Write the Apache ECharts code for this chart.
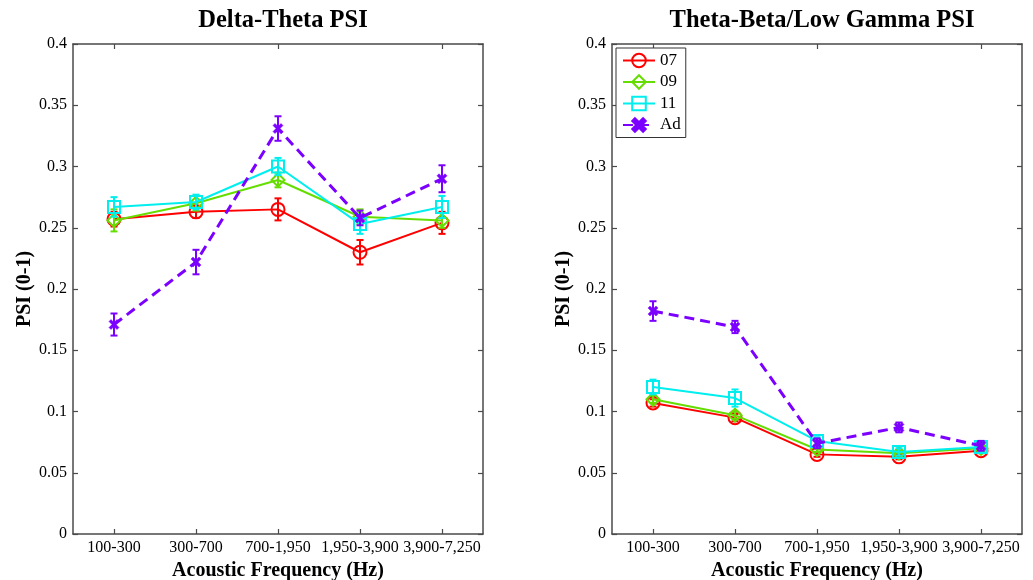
<!DOCTYPE html>
<html>
<head>
<meta charset="utf-8">
<script src="https://cdn.jsdelivr.net/npm/echarts@6/dist/echarts.min.js"></script>
<style>html,body{margin:0;padding:0;background:#fff}#c{width:1033px;height:580px}</style>
</head>
<body>
<div id="c"></div>
<script>
const categories = ['100-300', '300-700', '700-1,950', '1,950-3,900', '3,900-7,250'];
const yTicks = [0, 0.05, 0.1, 0.15, 0.2, 0.25, 0.3, 0.35, 0.4];
const seriesNames = ['07', '09', '11', 'Ad'];

// Delta-Theta PSI (means and error half-widths)
const dt07 = [0.257, 0.263, 0.265, 0.230, 0.254];
const dt09 = [0.256, 0.270, 0.289, 0.259, 0.256];
const dt11 = [0.267, 0.271, 0.300, 0.253, 0.267];
const dtAd = [0.171, 0.222, 0.331, 0.258, 0.290];
const dt07e = [0.006, 0.005, 0.009, 0.010, 0.009];
const dt09e = [0.009, 0.006, 0.006, 0.006, 0.006];
const dt11e = [0.008, 0.006, 0.007, 0.008, 0.009];
const dtAde = [0.009, 0.010, 0.010, 0.006, 0.011];

// Theta-Beta/Low Gamma PSI
const tb07 = [0.107, 0.095, 0.065, 0.063, 0.068];
const tb09 = [0.110, 0.097, 0.069, 0.066, 0.070];
const tb11 = [0.120, 0.111, 0.076, 0.067, 0.071];
const tbAd = [0.182, 0.169, 0.074, 0.087, 0.072];
const tb07e = [0.003, 0.003, 0.002, 0.002, 0.002];
const tb09e = [0.003, 0.003, 0.002, 0.002, 0.002];
const tb11e = [0.006, 0.007, 0.003, 0.003, 0.003];
const tbAde = [0.008, 0.005, 0.004, 0.004, 0.004];

const FONT = '"Liberation Serif", "Times New Roman", serif';
const AX = '#4a4a4a';
const colors = {'07': '#ff0000', '09': '#66dd00', '11': '#00eeee', 'Ad': '#7b00ff'};
const symbols = {
  '07': 'circle',
  '09': 'diamond',
  '11': 'rect',
  'Ad': 'path://M2,0 L5,3 L8,0 L10,2 L7,5 L10,8 L8,10 L5,7 L2,10 L0,8 L3,5 L0,2 Z'
};
const symSizes = {'07': 13, '09': 13, '11': 12, 'Ad': 10};

const panels = [
  {title: 'Delta-Theta PSI', vals: [dt07, dt09, dt11, dtAd], errs: [dt07e, dt09e, dt11e, dtAde], left: 73},
  {title: 'Theta-Beta/Low Gamma PSI', vals: [tb07, tb09, tb11, tbAd], errs: [tb07e, tb09e, tb11e, tbAde], left: 612}
];
const GW = 410, GH = 490, GT = 44;

const grid = [], xAxis = [], yAxis = [], series = [], title = [];
panels.forEach((p, gi) => {
  grid.push({left: p.left, top: GT, width: GW, height: GH, containLabel: false, outerBoundsMode: 'none'});
  title.push({text: p.title, left: p.left + GW / 2, top: 3, textAlign: 'center',
    textStyle: {fontFamily: FONT, fontWeight: 'bold', fontSize: 24.5, color: '#000'}});
  const tickCfg = {show: true, inside: true, length: 5, alignWithLabel: true, lineStyle: {color: AX, width: 1.2}};
  xAxis.push({type: 'category', gridIndex: gi, data: categories, position: 'bottom', boundaryGap: true,
    axisLine: {onZero: false, lineStyle: {color: AX, width: 1.5}}, axisTick: tickCfg,
    axisLabel: {fontFamily: FONT, fontSize: 16, color: '#000', margin: 6, interval: 0},
    name: 'Acoustic Frequency (Hz)', nameLocation: 'middle', nameGap: 22,
    nameTextStyle: {fontFamily: FONT, fontWeight: 'bold', fontSize: 20, color: '#000'}});
  xAxis.push({type: 'category', gridIndex: gi, data: categories, position: 'top', boundaryGap: true,
    axisLine: {onZero: false, lineStyle: {color: AX, width: 1.5}}, axisTick: tickCfg, axisLabel: {show: false}});
  const yBase = {type: 'value', gridIndex: gi, min: yTicks[0], max: yTicks[yTicks.length - 1],
    interval: yTicks[1] - yTicks[0], splitLine: {show: false},
    axisLine: {show: true, onZero: false, lineStyle: {color: AX, width: 1.5}},
    axisTick: {show: true, inside: true, length: 5, lineStyle: {color: AX, width: 1.2}}};
  yAxis.push(Object.assign({}, yBase, {position: 'left',
    axisLabel: {fontFamily: FONT, fontSize: 16, color: '#000', margin: 6},
    name: 'PSI (0-1)', nameLocation: 'middle', nameGap: 36,
    nameTextStyle: {fontFamily: FONT, fontWeight: 'bold', fontSize: 20, color: '#000'}}));
  yAxis.push(Object.assign({}, yBase, {position: 'right', axisLabel: {show: false}}));

  seriesNames.forEach((nm, si) => {
    const c = colors[nm];
    const isAd = nm === 'Ad';
    const errData = p.vals[si].map((v, i) => [i, v - p.errs[si][i], v + p.errs[si][i]]);
    series.push({
      type: 'custom', name: nm + '_err', xAxisIndex: gi * 2, yAxisIndex: gi * 2,
      data: errData, encode: {x: 0, y: [1, 2]}, z: 3 + si, silent: true,
      renderItem: function (params, api) {
        const x = api.value(0);
        const top = api.coord([x, api.value(2)]);
        const bot = api.coord([x, api.value(1)]);
        const w = 3.5;
        const st = {stroke: c, lineWidth: 2};
        return {type: 'group', children: [
          {type: 'line', shape: {x1: top[0], y1: top[1], x2: bot[0], y2: bot[1]}, style: st},
          {type: 'line', shape: {x1: top[0] - w, y1: top[1], x2: top[0] + w, y2: top[1]}, style: st},
          {type: 'line', shape: {x1: bot[0] - w, y1: bot[1], x2: bot[0] + w, y2: bot[1]}, style: st}
        ]};
      }
    });
    series.push({
      type: 'line', name: nm, xAxisIndex: gi * 2, yAxisIndex: gi * 2, data: p.vals[si],
      symbol: symbols[nm], symbolSize: symSizes[nm], showSymbol: true, z: 3 + si,
      lineStyle: {color: c, width: isAd ? 3 : 2, type: isAd ? [10, 6] : 'solid'},
      itemStyle: isAd ? {color: c, borderColor: c, borderWidth: 0.5}
                      : {color: 'rgba(255,255,255,0)', borderColor: c, borderWidth: 2},
      emphasis: {disabled: true}
    });
  });
});

const chart = echarts.init(document.getElementById('c'), null, {renderer: 'canvas'});
chart.setOption({
  animation: false,
  backgroundColor: '#fff',
  title: title,
  grid: grid,
  xAxis: xAxis,
  yAxis: yAxis,
  legend: {
    data: seriesNames, orient: 'vertical', left: 616, top: 48,
    itemWidth: 32, itemHeight: 17, itemGap: 4.5, padding: [4, 5, 4, 6],
    borderColor: '#333', borderWidth: 1, backgroundColor: '#fff',
    textStyle: {fontFamily: FONT, fontSize: 17, color: '#000'}, selectedMode: false
  },
  series: series
});
</script>
</body>
</html>
